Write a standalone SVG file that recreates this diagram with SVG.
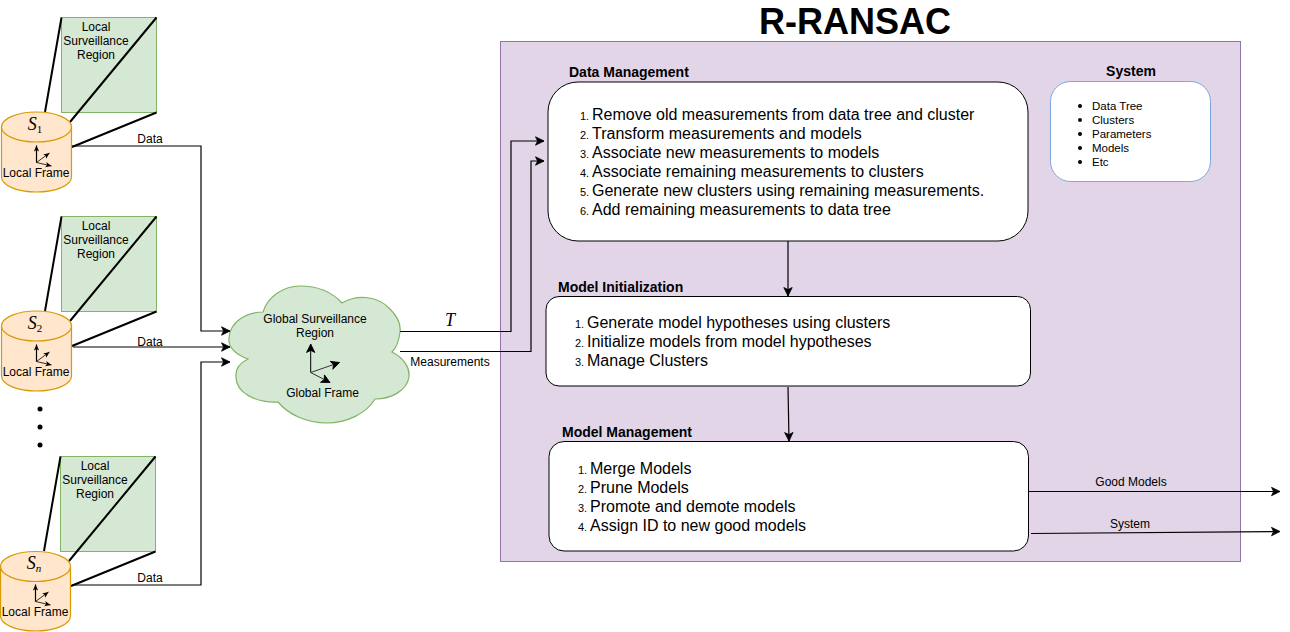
<svg xmlns="http://www.w3.org/2000/svg" xmlns:xlink="http://www.w3.org/1999/xlink" width="1290" height="632" viewBox="0 0 1290 632">
<style>
text{font-family:"Liberation Sans",Arial,sans-serif;fill:#000}
.s{font-size:12px}
.m{text-anchor:middle}
.h{font-size:14px;font-weight:bold}
.i{font-size:16px}
.n{font-size:11px}
.b{font-size:11.5px}
.c{fill:none;stroke:#000;stroke-width:1.2}
.t{fill:none;stroke:#000;stroke-width:2}
.g{fill:#d5e8d4;stroke:#82b366}
.o{fill:#ffe6cc;stroke:#d79b00;stroke-width:1.2}
.w{fill:#fff;stroke:#000}
.x{font-family:"Liberation Serif",serif;font-style:italic;font-size:18px}
.sb{font-size:11px}
</style>
<defs>
<marker id="a" markerUnits="userSpaceOnUse" markerWidth="12" markerHeight="10" refX="9" refY="5" orient="auto"><path d="M0.5,0.8 L9,5 L0.5,9.2 L2.6,5 Z" fill="#000" stroke="#000" stroke-width="0.8"/></marker>
<marker id="s" markerUnits="userSpaceOnUse" markerWidth="8" markerHeight="6" refX="6" refY="3" orient="auto"><path d="M0,0.4 L6,3 L0,5.6 L1.5,3 Z" fill="#000"/></marker>
<g id="axes">
<path class="c" marker-end="url(#s)" d="M0,0 V-17"/>
<path fill="none" stroke="#000" stroke-width="0.8" marker-end="url(#s)" d="M0,0 L13,-9.5"/>
<path fill="none" stroke="#000" stroke-width="0.8" marker-end="url(#s)" d="M0,0 L15,3.500"/>
</g>
</defs>

<g id="container"><rect x="500.500" y="41.500" width="740" height="520" fill="#e1d5e7" stroke="#9673a6"/></g>
<text id="title" x="855" y="34" class="m" font-size="36" font-weight="bold">R-RANSAC</text>

<g id="region1"><rect class="g" x="61.500" y="17.500" width="95" height="95"/>
<text class="s m" x="96" y="31">Local</text><text class="s m" x="96" y="45">Surveillance</text><text class="s m" x="96" y="59">Region</text></g>
<g id="region2"><rect class="g" x="61.500" y="216.500" width="95" height="95"/>
<text class="s m" x="96" y="230">Local</text><text class="s m" x="96" y="244">Surveillance</text><text class="s m" x="96" y="258">Region</text></g>
<g id="region3"><rect class="g" x="60.500" y="456.500" width="95" height="95"/>
<text class="s m" x="95" y="470">Local</text><text class="s m" x="95" y="484">Surveillance</text><text class="s m" x="95" y="498">Region</text></g>

<g id="sensor-lines">
<path class="t" d="M61.500,17.500 L45,112 M156.500,17.500 L70,122 M156.500,112.500 L72,147"/>
<path class="t" d="M61.500,216.500 L45,311 M156.500,216.500 L70,321 M156.500,311.500 L72,346"/>
<path class="t" d="M60.500,456.500 L44,551 M155.500,456.500 L69,561 M155.500,551.500 L71,586"/>
</g>

<g id="sensor1">
<path class="o" d="M1.500,127 A35,15 0 0 1 71.500,127 V177 A35,15 0 0 1 1.500,177 Z"/><path class="o" d="M1.500,127 A35,15 0 0 0 71.500,127"/>
<text class="x m" x="35" y="130">S<tspan class="sb" dy="3" font-style="normal">1</tspan></text>
<use xlink:href="#axes" href="#axes" x="36.500" y="162.500"/>
<text class="s m" x="36" y="177">Local Frame</text></g>
<g id="sensor2">
<path class="o" d="M1.500,326 A35,15 0 0 1 71.500,326 V376 A35,15 0 0 1 1.500,376 Z"/><path class="o" d="M1.500,326 A35,15 0 0 0 71.500,326"/>
<text class="x m" x="35" y="329">S<tspan class="sb" dy="3" font-style="normal">2</tspan></text>
<use xlink:href="#axes" href="#axes" x="36.500" y="361.500"/>
<text class="s m" x="36" y="376">Local Frame</text></g>
<g id="sensorn">
<path class="o" d="M0.500,566.500 A35,15 0 0 1 70.500,566.500 V616 A35,15 0 0 1 0.500,616 Z"/><path class="o" d="M0.500,566.500 A35,15 0 0 0 70.500,566.500"/>
<text class="x m" x="34" y="569">S<tspan class="sb" dy="3">n</tspan></text>
<use xlink:href="#axes" href="#axes" x="35.500" y="601.500"/>
<text class="s m" x="35" y="616">Local Frame</text></g>
<g id="dots"><circle cx="40" cy="409" r="2.500"/><circle cx="40" cy="427" r="2.500"/><circle cx="40" cy="445" r="2.500"/></g>

<g id="cloud">
<path class="g" stroke-width="1.200" d="M263,312 C268,296 284,286 300,286 C318,286 332,292 342,303 C358,294 378,296 390,309 C398,317 401,325 400,332 C399,341 396,348 392,352 C404,358 410,368 409,377 C407,390 392,399 375,399 C366,414 346,423 327,423 C306,423 288,414 278,402 C256,403 236,393 236,377 C235,369 240,363 248,359 C234,354 228,346 229,338 C230,322 246,312 263,312 Z"/>
<text class="s m" x="315" y="323">Global Surveillance</text><text class="s m" x="315" y="337">Region</text>
<path fill="none" stroke="#000" marker-end="url(#a)" d="M310.700,372.500 V344"/>
<path fill="none" stroke="#333" marker-end="url(#a)" d="M310.700,372.500 L339.500,362.500"/>
<path fill="none" stroke="#333" marker-end="url(#a)" d="M310.700,372.500 L330,382.500"/>
<text class="s m" x="322.500" y="397">Global Frame</text></g>

<g id="data-management">
<text class="h" x="569" y="77">Data Management</text>
<rect class="w" x="548" y="82" width="480" height="159" rx="30"/>
<text class="n" x="580" y="120">1.</text><text class="i" x="592" y="120">Remove old measurements from data tree and cluster</text>
<text class="n" x="580" y="139">2.</text><text class="i" x="592" y="139">Transform measurements and models</text>
<text class="n" x="580" y="158">3.</text><text class="i" x="592" y="158">Associate new measurements to models</text>
<text class="n" x="580" y="177">4.</text><text class="i" x="592" y="177">Associate remaining measurements to clusters</text>
<text class="n" x="580" y="196">5.</text><text class="i" x="592" y="196">Generate new clusters using remaining measurements.</text>
<text class="n" x="580" y="215">6.</text><text class="i" x="592" y="215">Add remaining measurements to data tree</text>
</g>
<g id="system">
<text class="h m" x="1131" y="76">System</text>
<rect x="1050.500" y="81.500" width="160" height="100" rx="20" fill="#fff" stroke="#7ea6e0"/>
<g fill="#000"><circle cx="1080" cy="106" r="2"/><circle cx="1080" cy="120" r="2"/><circle cx="1080" cy="134" r="2"/><circle cx="1080" cy="148" r="2"/><circle cx="1080" cy="162" r="2"/></g>
<text class="b" x="1092" y="110">Data Tree</text><text class="b" x="1092" y="124">Clusters</text><text class="b" x="1092" y="138">Parameters</text><text class="b" x="1092" y="152">Models</text><text class="b" x="1092" y="166">Etc</text>
</g>
<g id="model-initialization">
<text class="h" x="558" y="292">Model Initialization</text>
<rect class="w" x="546" y="296.500" width="484.500" height="89.500" rx="13"/>
<text class="n" x="575" y="328">1.</text><text class="i" x="587" y="328">Generate model hypotheses using clusters</text>
<text class="n" x="575" y="347">2.</text><text class="i" x="587" y="347">Initialize models from model hypotheses</text>
<text class="n" x="575" y="366">3.</text><text class="i" x="587" y="366">Manage Clusters</text>
</g>
<g id="model-management">
<text class="h" x="562" y="437">Model Management</text>
<rect class="w" x="549" y="441.500" width="479.500" height="109.500" rx="15"/>
<text class="n" x="578" y="474">1.</text><text class="i" x="590" y="474">Merge Models</text>
<text class="n" x="578" y="493">2.</text><text class="i" x="590" y="493">Prune Models</text>
<text class="n" x="578" y="512">3.</text><text class="i" x="590" y="512">Promote and demote models</text>
<text class="n" x="578" y="531">4.</text><text class="i" x="590" y="531">Assign ID to new good models</text>
</g>

<g id="connectors">
<path class="c" marker-end="url(#a)" d="M72,146 H201 V331 H230"/>
<path class="c" marker-end="url(#a)" d="M73,347 H230"/>
<path class="c" marker-end="url(#a)" d="M72,585 H201 V362 H230"/>
<path class="c" marker-end="url(#a)" d="M400,331.500 H511 V141 H544"/>
<path class="c" marker-end="url(#a)" d="M400,351.500 H531 V161 H544"/>
<path class="c" marker-end="url(#a)" d="M788,241 V296"/>
<path class="c" marker-end="url(#a)" d="M788,387 L789,441"/>
<path class="c" marker-end="url(#a)" d="M1029,491.500 H1280"/>
<path class="c" marker-end="url(#a)" d="M1031,533.500 L1280,531.500"/>
<text class="s m" x="150" y="143">Data</text>
<text class="s m" x="150" y="346">Data</text>
<text class="s m" x="150" y="582">Data</text>
<text class="x m" x="450" y="326">T</text>
<text class="s m" x="450" y="366">Measurements</text>
<text class="s m" x="1131" y="486">Good Models</text>
<text class="s m" x="1130" y="528">System</text>
</g>
</svg>
